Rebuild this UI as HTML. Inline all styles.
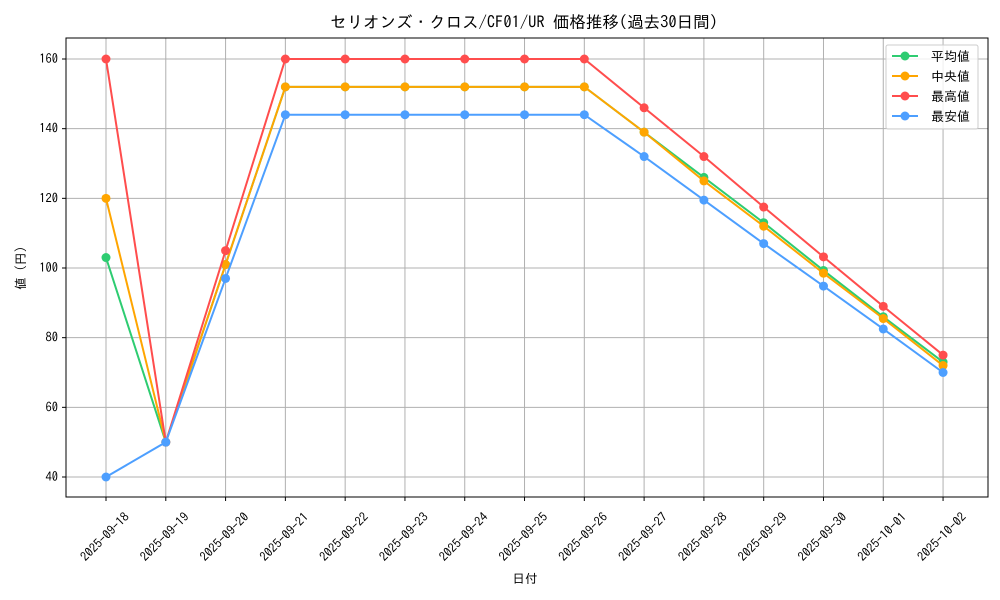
<!DOCTYPE html>
<html><head><meta charset="utf-8"><style>
html,body{margin:0;padding:0;background:#fff;}
svg{display:block;font-family:"IPAGothic","Liberation Sans","Noto Sans CJK JP",sans-serif;}
</style></head><body>
<svg id="s" width="1000" height="600" xmlns="http://www.w3.org/2000/svg">
<rect width="1000" height="600" fill="#fff"/>
<g id="grid" stroke="#b0b0b0" stroke-width="1"></g>
<g id="series"></g>
<rect x="66" y="38" width="922" height="459" fill="none" stroke="#000" stroke-width="1"/>
<g id="ticks" font-size="12.5" fill="#000"></g>
<text x="524" y="28" font-size="16.5" text-anchor="middle">セリオンズ・クロス/CF01/UR 価格推移(過去30日間)</text>
<text x="525" y="583" font-size="12.5" text-anchor="middle">日付</text>
<text x="25" y="268" font-size="12.5" text-anchor="middle" transform="rotate(-90 25 268)">値 (円)</text>
<g>
<rect x="886" y="45" width="92" height="84" fill="#fff" fill-opacity="0.8" stroke="#ccc" rx="2"/>
<line x1="892" y1="56" x2="918" y2="56" stroke="#2ecc71" stroke-width="2"/><circle cx="905" cy="56" r="4.5" fill="#2ecc71"/>
<line x1="892" y1="76" x2="918" y2="76" stroke="#ffa500" stroke-width="2"/><circle cx="905" cy="76" r="4.5" fill="#ffa500"/>
<line x1="892" y1="96" x2="918" y2="96" stroke="#ff4d4d" stroke-width="2"/><circle cx="905" cy="96" r="4.5" fill="#ff4d4d"/>
<line x1="892" y1="116" x2="918" y2="116" stroke="#4d9fff" stroke-width="2"/><circle cx="905" cy="116" r="4.5" fill="#4d9fff"/>
<text x="931" y="61" font-size="13">平均値</text>
<text x="931" y="81" font-size="13">中央値</text>
<text x="931" y="101" font-size="13">最高値</text>
<text x="931" y="121" font-size="13">最安値</text>
</g>
</svg>
<script>
var X=function(i){return 106+i*59.79},Y=function(v){return 477-(v-40)*3.4833};
var ns="http://www.w3.org/2000/svg";
function el(p,t,a){var e=document.createElementNS(ns,t);for(var k in a)e.setAttribute(k,a[k]);p.appendChild(e);return e;}
var g=document.getElementById('grid'),tk=document.getElementById('ticks'),sr=document.getElementById('series');
var dates=["2025-09-18","2025-09-19","2025-09-20","2025-09-21","2025-09-22","2025-09-23","2025-09-24","2025-09-25","2025-09-26","2025-09-27","2025-09-28","2025-09-29","2025-09-30","2025-10-01","2025-10-02"];
for(var i=0;i<15;i++){var x=X(i);el(g,'line',{x1:x,x2:x,y1:38,y2:497});el(tk,'line',{x1:x,x2:x,y1:497,y2:501,stroke:'#000'});
var cx=x-1;var t=el(tk,'text',{x:cx,y:541,'text-anchor':'middle',transform:'rotate(-45 '+cx+' 537)'});t.textContent=dates[i];}
for(var v=40;v<=160;v+=20){var y=Y(v);el(g,'line',{x1:66,x2:988,y1:y,y2:y});el(tk,'line',{x1:62,x2:66,y1:y,y2:y,stroke:'#000'});
var t=el(tk,'text',{x:58,y:y+4,'text-anchor':'end'});t.textContent=v;}
var S=[["#2ecc71",[103,50,101,152,152,152,152,152,152,139,126,113,99.3,86,73]],
["#ffa500",[120,50,101,152,152,152,152,152,152,139,125,112,98.5,85.5,72]],
["#ff4d4d",[160,50,105,160,160,160,160,160,160,146,132,117.5,103.2,89,75]],
["#4d9fff",[40,50,97,144,144,144,144,144,144,132,119.5,107,94.8,82.5,70]]];
S.forEach(function(s){var p=s[1].map(function(v,i){return X(i)+','+Y(v)}).join(' ');
el(sr,'polyline',{points:p,fill:'none',stroke:s[0],'stroke-width':2});
s[1].forEach(function(v,i){el(sr,'circle',{cx:X(i),cy:Y(v),r:4.5,fill:s[0]})});});
</script>
</body></html>
